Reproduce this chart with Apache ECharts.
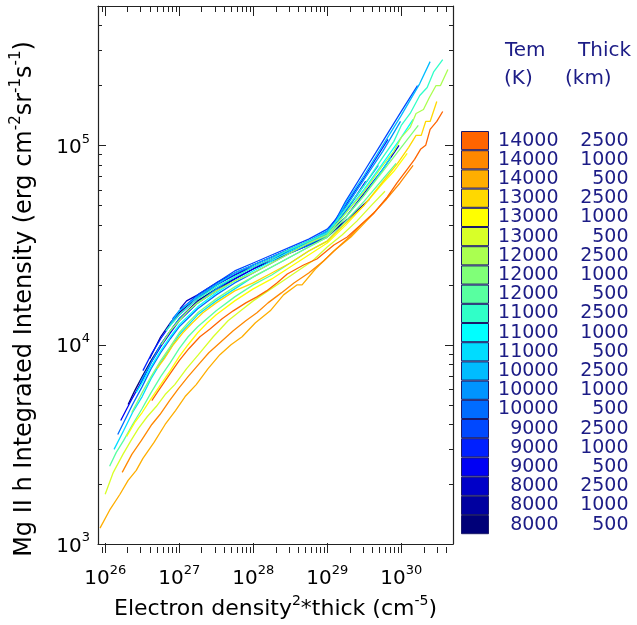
<!DOCTYPE html>
<html>
<head>
<meta charset="utf-8">
<title>Mg II h intensity vs emission measure</title>
<script src="https://cdn.jsdelivr.net/npm/echarts@6/dist/echarts.min.js"></script>
<style>
  html, body { margin: 0; padding: 0; background: #fff; }
  #main { width: 637px; height: 625px; }
</style>
</head>
<body>
<div id="main"></div>
<script>
// log10(EM), log10(I) pairs, one array per model
var t14000_500 = [[25.93,3.08],[26.06,3.17],[26.2,3.25],[26.31,3.32],[26.42,3.37],[26.51,3.43],[26.66,3.51],[26.81,3.60],[26.95,3.67],[27.08,3.74],[27.23,3.80],[27.39,3.88],[27.55,3.95],[27.7,4.00],[27.85,4.04],[28.03,4.11],[28.23,4.17],[28.41,4.25],[28.59,4.30],[28.66,4.30],[28.84,4.38],[29.09,4.47],[29.32,4.54],[29.45,4.59],[29.63,4.66],[29.86,4.76]];
var t14000_1000 = [[26.23,3.36],[26.36,3.45],[26.49,3.52],[26.63,3.60],[26.74,3.65],[26.87,3.72],[26.99,3.78],[27.12,3.84],[27.26,3.90],[27.4,3.96],[27.55,4.01],[27.73,4.07],[27.9,4.12],[28.05,4.16],[28.2,4.21],[28.38,4.26],[28.55,4.31],[28.75,4.36],[28.95,4.42],[29.12,4.48],[29.3,4.54],[29.48,4.61],[29.65,4.67],[29.8,4.73],[29.98,4.81],[30.16,4.90]];
var t14000_2500 = [[26.63,3.72],[26.72,3.77],[26.85,3.84],[27.0,3.92],[27.13,3.98],[27.28,4.04],[27.42,4.08],[27.58,4.13],[27.73,4.17],[27.9,4.21],[28.05,4.24],[28.18,4.27],[28.32,4.31],[28.46,4.355],[28.68,4.40],[28.86,4.43],[29.09,4.50],[29.27,4.54],[29.45,4.60],[29.63,4.66],[29.81,4.74],[29.94,4.81],[30.08,4.88],[30.18,4.93],[30.26,4.98],[30.33,5.00],[30.39,5.08],[30.48,5.12],[30.56,5.17]];
var t13000_500 = [[26.0,3.25],[26.11,3.36],[26.24,3.45],[26.35,3.52],[26.45,3.58],[26.57,3.64],[26.69,3.69],[26.81,3.75],[26.94,3.80],[27.1,3.88],[27.26,3.95],[27.46,4.04],[27.66,4.12],[27.83,4.17],[28.0,4.22],[28.2,4.27],[28.4,4.32],[28.6,4.37],[28.8,4.42],[29.0,4.49],[29.2,4.55],[29.4,4.62],[29.6,4.70],[29.78,4.77]];
var t13000_1000 = [[26.29,3.54],[26.4,3.61],[26.5,3.66],[26.62,3.73],[26.75,3.80],[26.88,3.87],[27.0,3.94],[27.12,4.00],[27.25,4.06],[27.38,4.11],[27.5,4.15],[27.75,4.22],[28.0,4.28],[28.25,4.33],[28.5,4.39],[28.75,4.45],[29.0,4.51],[29.25,4.60],[29.5,4.70],[29.75,4.81],[29.9,4.87],[30.08,4.96]];
var t13000_2500 = [[26.7,3.88],[26.8,3.93],[26.92,4.00],[27.05,4.06],[27.18,4.11],[27.32,4.16],[27.5,4.21],[27.75,4.27],[28.0,4.31],[28.25,4.36],[28.5,4.41],[28.75,4.47],[29.0,4.52],[29.25,4.61],[29.5,4.70],[29.65,4.77],[29.8,4.84],[29.95,4.91],[30.1,4.99],[30.2,5.05],[30.27,5.05],[30.33,5.12],[30.39,5.12],[30.48,5.22]];
var t12000_500 = [[26.06,3.39],[26.15,3.46],[26.25,3.52],[26.37,3.60],[26.5,3.68],[26.62,3.76],[26.75,3.84],[26.88,3.91],[27.0,3.98],[27.12,4.04],[27.25,4.09],[27.5,4.17],[27.75,4.24],[28.0,4.30],[28.25,4.35],[28.5,4.41],[28.75,4.47],[29.0,4.52],[29.25,4.62],[29.5,4.72],[29.75,4.83],[29.93,4.91]];
var t12000_1000 = [[26.36,3.66],[26.5,3.76],[26.62,3.84],[26.75,3.92],[26.88,3.99],[27.0,4.06],[27.12,4.11],[27.25,4.16],[27.5,4.23],[27.75,4.29],[28.0,4.34],[28.25,4.39],[28.5,4.44],[28.75,4.49],[29.0,4.54],[29.25,4.64],[29.5,4.75],[29.75,4.87],[30.0,4.99],[30.23,5.10]];
var t12000_2500 = [[26.76,4.00],[26.88,4.07],[27.0,4.12],[27.12,4.17],[27.25,4.21],[27.5,4.27],[27.75,4.32],[28.0,4.36],[28.25,4.41],[28.5,4.46],[28.75,4.51],[29.0,4.55],[29.25,4.66],[29.5,4.77],[29.75,4.90],[29.9,4.97],[30.0,5.04],[30.12,5.09],[30.2,5.16],[30.3,5.18],[30.38,5.24],[30.47,5.30],[30.53,5.30],[30.63,5.38]];
var t11000_500 = [[26.12,3.475],[26.25,3.57],[26.37,3.66],[26.5,3.74],[26.62,3.83],[26.75,3.91],[26.88,3.98],[27.0,4.05],[27.25,4.15],[27.5,4.22],[27.75,4.28],[28.0,4.34],[28.25,4.39],[28.5,4.44],[28.75,4.49],[29.0,4.54],[29.25,4.64],[29.5,4.75],[29.75,4.88],[29.86,4.94]];
var t11000_1000 = [[26.42,3.76],[26.5,3.81],[26.62,3.89],[26.75,3.97],[26.88,4.04],[27.0,4.10],[27.25,4.19],[27.5,4.26],[27.75,4.32],[28.0,4.37],[28.25,4.42],[28.5,4.47],[28.75,4.51],[29.0,4.55],[29.25,4.66],[29.5,4.78],[29.75,4.91],[30.0,5.04],[30.16,5.13]];
var t11000_2500 = [[26.82,4.07],[27.0,4.15],[27.25,4.23],[27.5,4.29],[27.75,4.34],[28.0,4.39],[28.25,4.43],[28.5,4.48],[28.75,4.52],[29.0,4.56],[29.25,4.68],[29.5,4.80],[29.75,4.94],[29.9,5.02],[30.0,5.10],[30.12,5.16],[30.25,5.25],[30.35,5.29],[30.44,5.37],[30.56,5.43]];
var t10000_500 = [[26.17,3.55],[26.25,3.61],[26.37,3.70],[26.5,3.79],[26.62,3.88],[26.75,3.96],[26.88,4.03],[27.0,4.09],[27.25,4.18],[27.5,4.25],[27.75,4.31],[28.0,4.36],[28.25,4.41],[28.5,4.46],[28.75,4.50],[29.0,4.55],[29.25,4.67],[29.5,4.80],[29.69,4.90]];
var t10000_1000 = [[26.47,3.81],[26.62,3.91],[26.75,4.00],[26.88,4.07],[27.0,4.13],[27.25,4.21],[27.5,4.28],[27.75,4.34],[28.0,4.39],[28.25,4.43],[28.5,4.48],[28.75,4.52],[29.0,4.56],[29.25,4.69],[29.5,4.83],[29.75,4.97],[29.99,5.12]];
var t10000_2500 = [[26.87,4.10],[27.0,4.17],[27.25,4.24],[27.5,4.30],[27.75,4.36],[28.0,4.40],[28.25,4.44],[28.5,4.48],[28.75,4.52],[29.0,4.57],[29.12,4.62],[29.25,4.71],[29.5,4.85],[29.75,5.00],[30.0,5.15],[30.25,5.31],[30.39,5.42]];
var t9000_500 = [[26.21,3.62],[26.35,3.72],[26.5,3.82],[26.62,3.91],[26.75,3.99],[26.88,4.06],[27.0,4.12],[27.25,4.21],[27.5,4.27],[27.75,4.33],[28.0,4.38],[28.25,4.43],[28.5,4.47],[28.75,4.51],[29.0,4.55],[29.25,4.67],[29.52,4.82]];
var t9000_1000 = [[26.51,3.87],[26.62,3.95],[26.75,4.03],[26.88,4.10],[27.0,4.15],[27.25,4.23],[27.5,4.30],[27.75,4.35],[28.0,4.40],[28.25,4.44],[28.5,4.48],[28.75,4.52],[29.0,4.57],[29.25,4.70],[29.5,4.84],[29.82,5.03]];
var t9000_2500 = [[26.91,4.13],[27.0,4.17],[27.25,4.25],[27.5,4.31],[27.75,4.37],[28.0,4.41],[28.25,4.45],[28.5,4.49],[28.75,4.53],[29.0,4.58],[29.12,4.63],[29.25,4.72],[29.5,4.87],[29.75,5.02],[30.0,5.17],[30.22,5.30]];
var t8000_500 = [[26.31,3.70],[26.4,3.77],[26.5,3.84],[26.62,3.92],[26.75,4.00],[26.88,4.07],[27.0,4.13],[27.25,4.22],[27.5,4.28],[27.75,4.33],[28.0,4.38],[28.25,4.42],[28.5,4.46],[28.75,4.50],[29.0,4.54],[29.27,4.63]];
var t8000_1000 = [[26.60,3.93],[26.75,4.04],[26.88,4.11],[27.0,4.16],[27.25,4.24],[27.5,4.30],[27.75,4.35],[28.0,4.39],[28.25,4.43],[28.5,4.47],[28.75,4.51],[29.0,4.55],[29.25,4.62],[29.57,4.73]];
var t8000_2500 = [[27.01,4.18],[27.1,4.22],[27.25,4.25],[27.5,4.31],[27.75,4.36],[28.0,4.40],[28.25,4.44],[28.5,4.48],[28.75,4.52],[29.0,4.56],[29.25,4.64],[29.5,4.76],[29.75,4.88],[29.97,5.00]];

// legend rows, top to bottom
var temps  = [14000,14000,14000,13000,13000,13000,12000,12000,12000,11000,11000,11000,10000,10000,10000,9000,9000,9000,8000,8000,8000];
var thicks = [2500,1000,500,2500,1000,500,2500,1000,500,2500,1000,500,2500,1000,500,2500,1000,500,2500,1000,500];
var colors = ['#ff6400','#ff8800','#ffae00','#ffd800','#ffff00','#d8ff28','#aaff50','#80ff78','#58ffa0','#30ffc8','#00ffff','#00dcff','#00bcff','#0094ff','#006cff','#0048ff','#0020ff','#0000f4','#0000c8','#0000a0','#000078'];
var lineData = [t14000_2500,t14000_1000,t14000_500,t13000_2500,t13000_1000,t13000_500,t12000_2500,t12000_1000,t12000_500,t11000_2500,t11000_1000,t11000_500,t10000_2500,t10000_1000,t10000_500,t9000_2500,t9000_1000,t9000_500,t8000_2500,t8000_1000,t8000_500];

var xMin = 8e25, xMax = 5e30;
var yMin = 1e3, yMax = 5e5;

var FONT = 'DejaVu Sans';
var NAVY = '#1c1c86';

var chart = echarts.init(document.getElementById('main'), null, {renderer: 'canvas'});

function powLabel(v) {
  var e = Math.round(Math.log10(v));
  if (Math.abs(Math.log10(v) - e) > 1e-6) return '';
  return '{b|10}{s|' + e + '}';
}

// superscripts: the big token gets a taller line box, the small one sits at its top
function supRich(size, sub, lh, key) {
  var r = {};
  r[key] = {fontFamily: FONT, fontSize: size, color: '#000', lineHeight: lh, verticalAlign: 'bottom'};
  r.s = {fontFamily: FONT, fontSize: sub, color: '#000', lineHeight: sub, verticalAlign: 'top'};
  return r;
}
var labelRich = supRich(20, 13, 25, 'b');

var series = [];
var legendData = [];
for (var i = 0; i < lineData.length; i++) {
  var name = temps[i] + ' ' + thicks[i];
  legendData.push(name);
  series.push({
    name: name,
    type: 'line',
    showSymbol: false,
    symbol: 'none',
    animation: false,
    lineStyle: {width: 1.3, color: colors[i]},
    itemStyle: {color: colors[i]},
    data: lineData[i].map(function (p) { return [Math.pow(10, p[0]), Math.pow(10, p[1])]; })
  });
}
series.reverse(); // cool models first, warm ones on top

var axisLine = {show: true, onZero: false, lineStyle: {color: '#222', width: 1.2}};

chart.setOption({
  animation: false,
  grid: {left: 98, top: 6, width: 355, height: 547},
  xAxis: [{
    type: 'log', min: xMin, max: xMax, gridIndex: 0, position: 'bottom',
    axisLine: axisLine, axisTick: {show: false}, splitLine: {show: false},
    axisLabel: {margin: 20, formatter: powLabel, rich: labelRich, showMinLabel: false, showMaxLabel: false},
    name: '{n|Electron density}{s|2}{n|*thick (cm}{s|-5}{n|)}',
    nameLocation: 'middle', nameGap: 33,
    nameTextStyle: {rich: supRich(22, 14, 26, 'n')}
  }, {
    type: 'log', min: xMin, max: xMax, gridIndex: 0, position: 'top',
    axisLine: axisLine, axisTick: {show: false}, splitLine: {show: false}, axisLabel: {show: false}
  }],
  yAxis: [{
    type: 'log', min: yMin, max: yMax, gridIndex: 0, position: 'left',
    axisLine: axisLine, axisTick: {show: false}, splitLine: {show: false},
    axisLabel: {margin: 8, formatter: powLabel, rich: labelRich, showMaxLabel: false}
  }, {
    type: 'log', min: yMin, max: yMax, gridIndex: 0, position: 'right',
    axisLine: axisLine, axisTick: {show: false}, splitLine: {show: false}, axisLabel: {show: false}
  }],
  legend: {
    data: legendData,
    orient: 'vertical', left: 461, top: 131,
    itemWidth: 27, itemHeight: 18.2, itemGap: 0, padding: 0,
    icon: 'rect', selectedMode: false,
    itemStyle: {borderColor: '#1a1a6a', borderWidth: 1},
    formatter: function (n) {
      var p = n.split(' ');
      return '{t|' + p[0] + '}{k|' + p[1] + '}';
    },
    textStyle: {
      rich: {
        t: {fontFamily: FONT, fontSize: 19, color: NAVY, width: 65, align: 'right', lineHeight: 18.2},
        k: {fontFamily: FONT, fontSize: 19, color: NAVY, width: 70, align: 'right', lineHeight: 18.2}
      }
    }
  },
  series: series
});

// minor/major ticks placed through the axis scales
var gx0 = 98, gx1 = 453, gy0 = 6, gy1 = 553;
var g = [];
function tick(x1, y1, x2, y2) {
  g.push({type: 'line', silent: true, shape: {x1: x1, y1: y1, x2: x2, y2: y2}, style: {stroke: '#222', lineWidth: 1}});
}
for (var e = 25; e <= 30; e++) {
  for (var m = 1; m <= 9; m++) {
    var v = m * Math.pow(10, e);
    if (v <= xMin * 1.0001 || v >= xMax * 0.9999) continue;
    var px = Math.round(chart.convertToPixel({xAxisIndex: 0}, v)) + 0.5;
    var len = m === 1 ? 10 : 6;
    tick(px, gy1, px, gy1 - len);
    tick(px, gy0, px, gy0 + len);
  }
}
for (var e2 = 3; e2 <= 5; e2++) {
  for (var m2 = 1; m2 <= 9; m2++) {
    var w = m2 * Math.pow(10, e2);
    if (w <= yMin * 1.0001 || w >= yMax * 0.9999) continue;
    var py = Math.round(chart.convertToPixel({yAxisIndex: 0}, w)) + 0.5;
    var len2 = m2 === 1 ? 8 : 4;
    tick(gx0, py, gx0 + len2, py);
    tick(gx1, py, gx1 - len2, py);
  }
}

// y title, rotated, a bit below the axis middle as in the original
g.push({
  type: 'text', x: 23, y: 299, rotation: Math.PI / 2, silent: true,
  style: {
    text: '{n|Mg II h Integrated Intensity (erg cm}{s|-2}{n|sr}{s|-1}{n|s}{s|-1}{n|)}',
    rich: supRich(24, 15, 28, 'n'),
    align: 'center', verticalAlign: 'middle'
  }
});

// legend header
var hdr = {fontFamily: FONT, fontSize: 20, fill: NAVY};
g.push({type: 'text', left: 505, top: 41, style: Object.assign({text: 'Tem'}, hdr)});
g.push({type: 'text', left: 578, top: 41, style: Object.assign({text: 'Thick'}, hdr)});
g.push({type: 'text', left: 504, top: 69, style: Object.assign({text: '(K)'}, hdr)});
g.push({type: 'text', left: 565, top: 69, style: Object.assign({text: '(km)'}, hdr)});

chart.setOption({graphic: g});
</script>
</body>
</html>
